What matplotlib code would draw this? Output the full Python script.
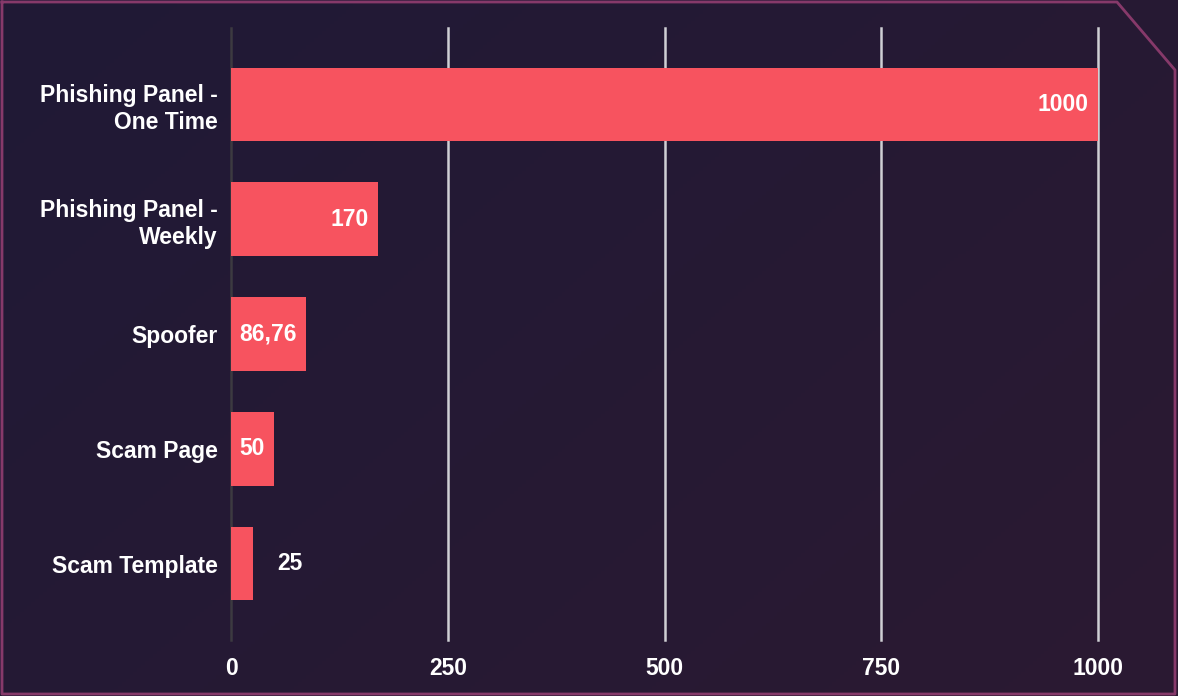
import numpy as np
import matplotlib
matplotlib.use("Agg")
import matplotlib.pyplot as plt
from matplotlib.lines import Line2D

# --- data ---
categories = ["Phishing Panel -\nOne Time", "Phishing Panel -\nWeekly", "Spoofer",
              "Scam Page", "Scam Template"]
values = [1000, 170, 86.76, 50, 25]
value_labels = ["1000", "170", "86,76", "50", "25"]
x_ticks = [0, 250, 500, 750, 1000]

plt.rcParams['font.family'] = ['Liberation Sans', 'DejaVu Sans']
FS = 16.5

fig = plt.figure(figsize=(11.78, 6.96), dpi=100)

# --- background gradient ---
bg = fig.add_axes([0, 0, 1, 1], zorder=-10)
gx, gy = np.meshgrid(np.linspace(0, 1, 300), np.linspace(0, 1, 200))
t = (gx * 0.6 + gy * 0.4)
c0 = np.array([0x20, 0x1a, 0x36]) / 255
c1 = np.array([0x2b, 0x19, 0x32]) / 255
img = c0[None, None, :] * (1 - t[..., None]) + c1[None, None, :] * t[..., None]
bg.imshow(img, aspect='auto', extent=[0, 1, 0, 1], origin='upper')
bg.set_xlim(0, 1)
bg.set_ylim(0, 1)
bg.axis('off')

# border with clipped top-right corner
W, H = 1178, 696
px = [2, 1117, 1175, 1175, 2, 2]
py = [2, 2, 70, 694, 694, 2]
fig.add_artist(Line2D([x / W for x in px], [1 - y / H for y in py],
                      transform=fig.transFigure, color="#86396a", lw=2))

# --- bar chart ---
ax = fig.add_axes([231 / W, 1 - 640 / H, (1098 - 231) / W, (640 - 28) / H])
ax.patch.set_alpha(0)
y = np.arange(len(categories))
ax.barh(y, values, height=0.64, color="#f7535f", zorder=3)

ax.set_xlim(0, 1000)
ax.set_ylim(len(categories) - 1 + 0.665, -0.665)
ax.set_xticks(x_ticks)
ax.set_xticklabels([str(v) for v in x_ticks])
ax.set_yticks(y)
ax.set_yticklabels(categories)
ax.tick_params(axis='x', length=0, pad=12, colors="white", labelsize=FS)
ax.tick_params(axis='y', length=0, pad=9.5, colors="white", labelsize=FS)
for lab in ax.get_xticklabels() + ax.get_yticklabels():
    lab.set_fontweight("bold")
    lab.set_linespacing(1.22)

for s in ax.spines.values():
    s.set_visible(False)
for v in x_ticks[1:]:
    ax.axvline(v, color="#cfcfd4", lw=1.8, zorder=1, clip_on=False)
ax.axvline(0, color="#3c3a40", lw=1.8, zorder=2, clip_on=False)

# value labels
for yi, v, lab in zip(y, values, value_labels):
    if v >= 40:
        ax.annotate(lab, (v, yi), xytext=(-7, 0), textcoords="offset points",
                    ha="right", va="center", color="white", fontsize=FS,
                    fontweight="bold", zorder=4)
    else:
        ax.annotate(lab, (v, yi), xytext=(18, 0), textcoords="offset points",
                    ha="left", va="center", color="white", fontsize=FS,
                    fontweight="bold", zorder=4)

fig.savefig("out.png", dpi=100)
